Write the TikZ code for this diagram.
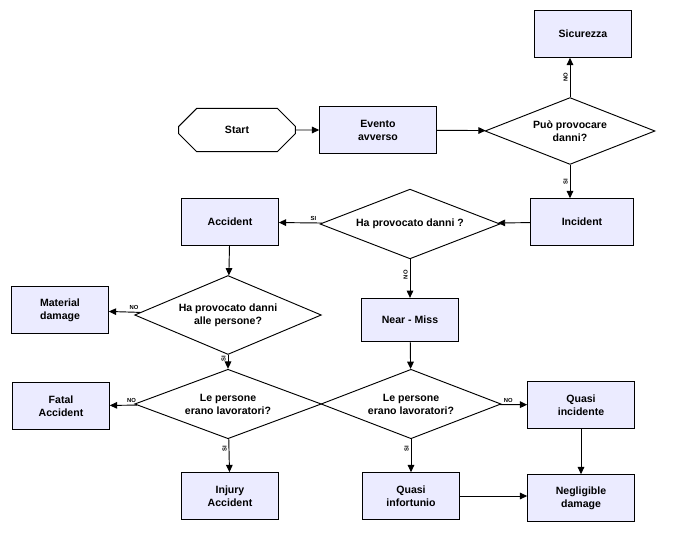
\documentclass[tikz,border=0pt]{standalone}
\usepackage{fontspec}
\setmainfont{Liberation Sans}
\usetikzlibrary{shapes.geometric, shapes.misc, arrows.meta}
\tikzset{
    every node/.style={font=\bfseries\small},
    box/.style={draw, thick, fill=blue!8, align=center, minimum width=2.9cm, minimum height=1.4cm, inner sep=1pt},
    dec/.style={draw, thick, fill=white, diamond, aspect=1.75, align=center, inner sep=0pt, minimum width=5.6cm},
    lab/.style={font=\bfseries\tiny, inner sep=1.5pt},
    arr/.style={-{Triangle[length=2.2mm,width=2mm]}, thick},
}
\begin{document}
\begin{tikzpicture}[x=0.03cm, y=-0.03cm]
    \useasboundingbox (0,0) rectangle (678,532);
    % boxes
    \node[box] (sic) at (583,34) {Sicurezza};
    \node[box, chamfered rectangle, chamfered rectangle xsep=0.6cm, chamfered rectangle ysep=0.65cm, fill=white, minimum width=3.5cm, minimum height=1.3cm] (start) at (237,130) {Start};
    \node[box, minimum width=3.5cm] (evento) at (378,130) {Evento\\avverso};
    \node[dec, aspect=1.6, minimum width=5.1cm] (puo) at (570,131) {Può provocare\\danni?};
    \node[box, minimum width=3.1cm] (incident) at (582,222) {Incident};
    \node[dec, aspect=1.8, minimum width=5.4cm] (ha) at (410,224) {Ha provocato danni ?};
    \node[box] (accident) at (230,222) {Accident};
    \node[box] (material) at (60,310) {Material\\damage};
    \node[dec] (hap) at (228,315) {Ha provocato danni\\alle persone?};
    \node[box, minimum height=1.3cm] (near) at (410,320) {Near - Miss};
    \node[box] (fatal) at (61,406) {Fatal\\Accident};
    \node[dec] (lpl) at (228,404) {Le persone\\erano lavoratori?};
    \node[dec, minimum width=5.4cm] (lpr) at (411,404) {Le persone\\erano lavoratori?};
    \node[box, minimum width=3.2cm] (quasiinc) at (581,405) {Quasi\\incidente};
    \node[box] (injury) at (230,496) {Injury\\Accident};
    \node[box] (quasiinf) at (411,496) {Quasi\\infortunio};
    \node[box, minimum width=3.2cm] (negl) at (581,498) {Negligible\\damage};
    % connectors
    \draw[arr] (start) -- (evento);
    \draw[arr] (evento) -- (puo);
    \draw[arr] (puo.north) -- node[lab, rotate=90, anchor=south] {NO} (puo.north |- sic.south);
    \draw[arr] (puo.south) -- node[lab, rotate=90, anchor=south] {SI} (puo.south |- incident.north);
    \draw[arr] (incident) -- (ha);
    \draw[arr] (ha) -- node[lab, above, pos=0.2] {SI} (accident);
    \draw[arr] (ha) -- node[lab, rotate=90, anchor=south, pos=0.4] {NO} (near);
    \draw[arr] (accident) -- (hap);
    \draw[arr] (hap) -- node[lab, above, pos=0.2] {NO} (material);
    \draw[arr] (hap) -- node[lab, rotate=90, anchor=south, pos=0.3] {SI} (lpl);
    \draw[arr] (lpl) -- node[lab, above, pos=0.2] {NO} (fatal);
    \draw[arr] (lpl) -- node[lab, rotate=90, anchor=south, pos=0.3] {SI} (injury);
    \draw[arr] (near) -- (lpr);
    \draw[arr] (lpr) -- node[lab, above, pos=0.3] {NO} (quasiinc);
    \draw[arr] (lpr) -- node[lab, rotate=90, anchor=south, pos=0.3] {SI} (quasiinf);
    \draw[arr] (quasiinc) -- (negl);
    \draw[arr] (quasiinf) -- (quasiinf -| negl.west);
\end{tikzpicture}
\end{document}
